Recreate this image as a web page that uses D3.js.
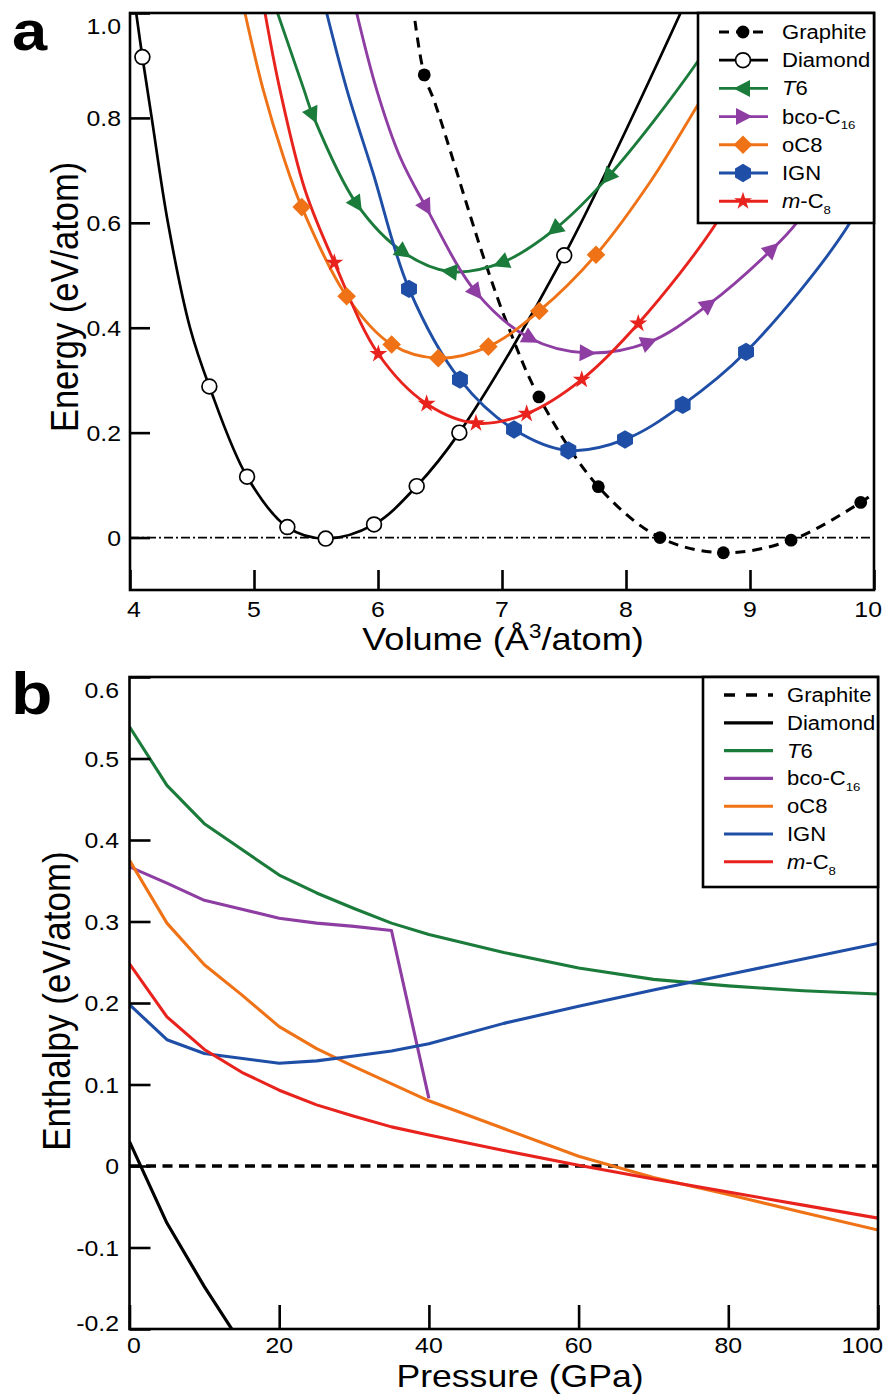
<!DOCTYPE html>
<html>
<head>
<meta charset="utf-8">
<title>Carbon phases: energy–volume and enthalpy–pressure</title>
<script src="https://cdn.jsdelivr.net/npm/d3@7/dist/d3.min.js"></script>
<style>
  html, body { margin: 0; padding: 0; background: #fff; }
  svg { display: block; }
</style>
</head>
<body>
<svg id="fig" width="885" height="1399"></svg>
<script>
// ---------------- Panel a: energy vs. volume ----------------
const volumeTicks = [4, 5, 6, 7, 8, 9, 10];
const energyTicks = [0, 0.2, 0.4, 0.6, 0.8, 1.0];

// computed structures: [V (Å^3/atom), E (eV/atom)]
const graphiteEV = [[6.373,0.882],[7.298,0.268],[7.777,0.097],[8.274,0.000],[8.785,-0.029],[9.331,-0.005],[9.893,0.067]];
const diamondEV  = [[4.10,0.916],[4.64,0.288],[4.944,0.116],[5.269,0.020],[5.578,-0.002],[5.968,0.025],[6.312,0.098],[6.656,0.200],[7.502,0.538]];
const t6EV       = [[5.473,0.806],[5.828,0.636],[6.204,0.544],[6.581,0.507],[6.998,0.524],[7.427,0.588],[7.857,0.688]];
const bcoEV      = [[6.387,0.630],[6.790,0.468],[7.226,0.380],[7.683,0.352],[8.180,0.372],[8.664,0.444],[9.175,0.549]];
const oc8EV      = [[5.385,0.630],[5.747,0.460],[6.110,0.368],[6.486,0.342],[6.890,0.364],[7.301,0.432],[7.758,0.539]];
const ignEV      = [[6.250,0.474],[6.661,0.301],[7.097,0.206],[7.535,0.166],[7.992,0.187],[8.457,0.253],[8.968,0.354]];
const mc8EV      = [[5.648,0.524],[6.003,0.350],[6.392,0.255],[6.790,0.218],[7.199,0.236],[7.643,0.301],[8.099,0.408]];

// extra points along each fitted equation-of-state curve (outside / between the computed points)
const graphiteFit = [[6.298,0.985],[6.46,0.828],[6.849,0.536],[7.051,0.402],[10.0,0.085]];
const diamondFit  = [[4.05,1.0],[4.175,0.80],[4.306,0.60],[4.484,0.40],[8.44,1.0]];
const t6Fit       = [[5.19,1.0],[5.404,0.853],[8.577,0.907],[8.9,1.03]];
const bcoFit      = [[5.828,1.0],[5.99,0.853],[6.177,0.726],[9.376,0.60],[9.7,0.72]];
const oc8Fit      = [[4.927,1.0],[5.075,0.853],[5.237,0.726],[8.207,0.682],[8.58,0.825],[8.9,0.95]];
const ignFit      = [[5.586,1.0],[5.75,0.853],[5.96,0.695],[9.806,0.60],[10.1,0.75]];
const mc8Fit      = [[5.089,1.0],[5.21,0.853],[5.411,0.663],[8.73,0.60],[9.0,0.72]];

// ---------------- Panel b: enthalpy vs. pressure ----------------
const pressureTicks = [0, 20, 40, 60, 80, 100];
const enthalpyTicks = [-0.2, -0.1, 0, 0.1, 0.2, 0.3, 0.4, 0.5, 0.6];

const graphiteP = [0, 100];
const graphiteH = [0, 0];
const diamondP  = [0, 5, 10, 15];
const diamondH  = [0.030, -0.070, -0.148, -0.219];
const t6P  = [0, 5, 10, 20, 25, 30, 35, 40, 50, 60, 70, 80, 90, 100];
const t6H  = [0.539, 0.467, 0.420, 0.357, 0.335, 0.316, 0.298, 0.284, 0.262, 0.243, 0.229, 0.221, 0.215, 0.211];
const bcoP = [0, 5, 10, 20, 25, 30, 35, 40];
const bcoH = [0.367, 0.347, 0.326, 0.304, 0.298, 0.294, 0.289, 0.083];
const oc8P = [0, 5, 10, 15, 20, 25, 30, 40, 50, 60, 70, 80, 90, 100];
const oc8H = [0.375, 0.298, 0.247, 0.210, 0.171, 0.144, 0.122, 0.080, 0.046, 0.012, -0.014, -0.035, -0.057, -0.0785];
const ignP = [0, 5, 10, 20, 25, 30, 35, 40, 50, 60, 70, 80, 90, 100];
const ignH = [0.198, 0.155, 0.138, 0.126, 0.129, 0.135, 0.141, 0.150, 0.175, 0.196, 0.216, 0.235, 0.254, 0.273];
const mc8P = [0, 5, 10, 15, 20, 25, 30, 35, 40, 50, 60, 70, 80, 90, 100];
const mc8H = [0.248, 0.183, 0.143, 0.115, 0.093, 0.075, 0.061, 0.048, 0.038, 0.019, 0.001, -0.016, -0.032, -0.048, -0.064];

// ---------------- styling ----------------
const FONT = '"Liberation Sans", Arial, Helvetica, sans-serif';
const SX = 1.13;              // horizontal text stretch
const GREEN = '#1b7b3b', PURPLE = '#8e3ea3', ORANGE = '#ef7316', BLUE = '#1f4ea6', RED = '#e8231e';
const FRAME_W = 2.6;

const svg = d3.select('#fig');
const defs = svg.append('defs');

function clamp(v, lo, hi) { return Math.max(lo, Math.min(hi, v)); }

// text with optional italic / subscript / superscript parts, horizontally stretched
function richText(parent, x, y, parts, o) {
  const size = o.size;
  const g = parent.append('g')
    .attr('transform', `translate(${x},${y}) scale(${SX},1)` + (o.rotate ? ` rotate(${o.rotate})` : ''));
  const t = g.append('text')
    .attr('font-family', FONT)
    .attr('font-size', size)
    .attr('font-weight', o.weight || 'normal')
    .attr('text-anchor', o.anchor || 'start')
    .attr('fill', '#000');
  if (typeof parts === 'string') parts = [{ t: parts }];
  let off = 0;
  parts.forEach(p => {
    let target = 0, fs = size;
    if (p.sub) { target = 0.3 * size; fs = 0.6 * size; }
    if (p.sup) { target = -0.38 * size; fs = 0.62 * size; }
    const s = t.append('tspan').text(p.t).attr('font-size', fs).attr('dy', target - off);
    if (p.i) s.attr('font-style', 'italic');
    off = target;
  });
  return { g, t };
}

// marker outlines (centred at 0,0); the triangle points along +x
function hexPath(r) {
  const pts = d3.range(6).map(k => {
    const a = (-90 + 60 * k) * Math.PI / 180;
    return [r * Math.cos(a), r * Math.sin(a)];
  });
  return 'M' + pts.map(p => p.join(',')).join('L') + 'Z';
}
const markerShapes = {
  dot: d3.symbol(d3.symbolCircle, Math.PI * 6.4 * 6.4)(),
  circle: d3.symbol(d3.symbolCircle, Math.PI * 7.4 * 7.4)(),
  triangle: 'M9.5,0L-7,-8.5L-7,8.5Z',
  diamond: 'M0,-9.3L9.3,0L0,9.3L-9.3,0Z',
  hexagon: hexPath(9.2),
  star: d3.symbol(d3.symbolStar, 100)()
};

function drawMarker(parent, x, y, s, angle) {
  const p = parent.append('path')
    .attr('d', markerShapes[s.shape])
    .attr('transform', `translate(${x},${y}) rotate(${angle || 0})`)
    .attr('fill', s.fill || s.color);
  if (s.shape === 'circle') p.attr('stroke', '#000').attr('stroke-width', 1.7);
}

// =====================================================================
// Panel a
// =====================================================================
const A = { left: 130, right: 874, top: 13, bottom: 590 };
const xA = d3.scaleLinear().domain([4, 10]).range([A.left, A.right]);
const yA = d3.scaleLinear().domain([-0.1, 1.0]).range([A.bottom, A.top]);

defs.append('clipPath').attr('id', 'clipA').append('rect')
  .attr('x', A.left).attr('y', A.top).attr('width', A.right - A.left).attr('height', A.bottom - A.top);

const evSeries = [
  { label: 'Graphite', marks: graphiteEV, fit: graphiteFit, color: '#000', shape: 'dot', dash: '10,7', width: 3 },
  { label: 'Diamond',  marks: diamondEV,  fit: diamondFit,  color: '#000', shape: 'circle', fill: '#fff', width: 2.7 },
  { label: 'T6',       marks: t6EV,       fit: t6Fit,       color: GREEN,  shape: 'triangle', orient: 'toMin', legendAngle: 180, width: 2.9 },
  { label: 'bco-C16',  marks: bcoEV,      fit: bcoFit,      color: PURPLE, shape: 'triangle', orient: 'tangent', legendAngle: 0, width: 2.9 },
  { label: 'oC8',      marks: oc8EV,      fit: oc8Fit,      color: ORANGE, shape: 'diamond', width: 2.9 },
  { label: 'IGN',      marks: ignEV,      fit: ignFit,      color: BLUE,   shape: 'hexagon', width: 2.9 },
  { label: 'm-C8',     marks: mc8EV,      fit: mc8Fit,      color: RED,    shape: 'star', width: 2.9 }
];

const gA = svg.append('g');
const plotA = gA.append('g').attr('clip-path', 'url(#clipA)');

// reference level E = 0
plotA.append('line')
  .attr('x1', A.left).attr('x2', A.right)
  .attr('y1', yA(0)).attr('y2', yA(0))
  .attr('stroke', '#000').attr('stroke-width', 1.7)
  .attr('stroke-dasharray', '9,3,2,3');

const fitLine = d3.line().x(d => xA(d[0])).y(d => yA(d[1])).curve(d3.curveCatmullRom.alpha(0.5));

evSeries.forEach(s => {
  s.curve = s.marks.concat(s.fit).sort((a, b) => a[0] - b[0]);
  plotA.append('path')
    .attr('d', fitLine(s.curve))
    .attr('fill', 'none')
    .attr('stroke', s.color)
    .attr('stroke-width', s.width)
    .attr('stroke-dasharray', s.dash || null);
});

evSeries.forEach(s => {
  const eMin = d3.least(s.marks, d => d[1]);
  s.marks.forEach(m => {
    let angle = 0;
    if (s.orient) {
      const j = s.curve.indexOf(m);
      const prev = s.curve[Math.max(0, j - 1)], next = s.curve[Math.min(s.curve.length - 1, j + 1)];
      angle = Math.atan2(yA(next[1]) - yA(prev[1]), xA(next[0]) - xA(prev[0])) * 180 / Math.PI;
      if (s.orient === 'toMin' && m[0] >= eMin[0]) angle += 180;
    }
    drawMarker(plotA, xA(m[0]), yA(m[1]), s, angle);
  });
});

// ticks (inward) via d3 axes
gA.append('g').attr('transform', `translate(${A.left},0)`)
  .call(d3.axisLeft(yA).tickValues(energyTicks).tickSize(-20).tickSizeOuter(0).tickFormat(''))
  .call(g => g.select('.domain').remove())
  .call(g => g.selectAll('.tick line').attr('stroke', '#000').attr('stroke-width', FRAME_W));
gA.append('g').attr('transform', `translate(0,${A.bottom})`)
  .call(d3.axisBottom(xA).tickValues(volumeTicks).tickSize(-20).tickSizeOuter(0).tickFormat(''))
  .call(g => g.select('.domain').remove())
  .call(g => g.selectAll('.tick line').attr('stroke', '#000').attr('stroke-width', FRAME_W));

gA.append('rect')
  .attr('x', A.left).attr('y', A.top).attr('width', A.right - A.left).attr('height', A.bottom - A.top)
  .attr('fill', 'none').attr('stroke', '#000').attr('stroke-width', FRAME_W);

// tick labels
const TICK_FS = 22;
function yTickLabels(parent, scale, ticks, box, xRight, fmt) {
  ticks.forEach(v => {
    const cy = clamp(scale(v), box.top + 13, box.bottom - 6);
    richText(parent, xRight, cy + 8, fmt(v), { size: TICK_FS, anchor: 'end' });
  });
}
function xTickLabels(parent, scale, ticks, baseline, minLeft, maxRight) {
  ticks.forEach(v => {
    const r = richText(parent, scale(v), baseline, String(v), { size: TICK_FS, anchor: 'middle' });
    const w = r.t.node().getComputedTextLength() * SX;
    const cx = clamp(scale(v), minLeft + w / 2, maxRight - w / 2);
    r.g.attr('transform', `translate(${cx},${baseline}) scale(${SX},1)`);
  });
}
// plain hyphen for negatives, bare "0" at the origin
const fmtE = v => v === 0 ? '0' : d3.format('.1f')(v).replace('\u2212', '-');
yTickLabels(gA, yA, energyTicks, A, 121, fmtE);
xTickLabels(gA, xA, volumeTicks, 617, 127, 882);

// axis titles
richText(gA, 503, 650, [{ t: 'Volume (Å' }, { t: '3', sup: 1 }, { t: '/atom)' }], { size: 32, anchor: 'middle' });
richText(gA, 78, 297, 'Energy (eV/atom)', { size: 34.5, anchor: 'middle', rotate: -90 });

// panel letter
richText(svg, 12, 50, 'a', { size: 56, weight: 'bold' });

// legend
const legendLabels = [
  [{ t: 'Graphite' }],
  [{ t: 'Diamond' }],
  [{ t: 'T', i: 1 }, { t: '6' }],
  [{ t: 'bco-C' }, { t: '16', sub: 1 }],
  [{ t: 'oC8' }],
  [{ t: 'IGN' }],
  [{ t: 'm', i: 1 }, { t: '-C' }, { t: '8', sub: 1 }]
];

const legA = gA.append('g');
legA.append('rect')
  .attr('x', 698).attr('y', A.top).attr('width', A.right - 698).attr('height', 223 - A.top)
  .attr('fill', '#fff').attr('stroke', '#000').attr('stroke-width', FRAME_W);
evSeries.forEach((s, i) => {
  const cy = 32 + i * 28.2;
  legA.append('line').attr('x1', 719).attr('x2', 768).attr('y1', cy).attr('y2', cy)
    .attr('stroke', s.color).attr('stroke-width', s.width).attr('stroke-dasharray', s.dash || null);
  drawMarker(legA, 743, cy, s, s.legendAngle || 0);
  richText(legA, 782, cy + 7, legendLabels[i], { size: 19.5 });
});

// =====================================================================
// Panel b
// =====================================================================
const B = { left: 129.5, right: 878, top: 677, bottom: 1329 };
const xB = d3.scaleLinear().domain([0, 100]).range([B.left, B.right]);
const yB = d3.scaleLinear().domain([-0.2, 0.6]).range([B.bottom, B.top]);

defs.append('clipPath').attr('id', 'clipB').append('rect')
  .attr('x', B.left).attr('y', B.top).attr('width', B.right - B.left).attr('height', B.bottom - B.top);

const hpSeries = [
  { p: graphiteP, h: graphiteH, color: '#000', dash: '10,6.5', width: 3.3 },
  { p: diamondP,  h: diamondH,  color: '#000', width: 3.2 },
  { p: t6P,       h: t6H,       color: GREEN,  width: 3.1 },
  { p: bcoP,      h: bcoH,      color: PURPLE, width: 3.1 },
  { p: oc8P,      h: oc8H,      color: ORANGE, width: 3.1 },
  { p: ignP,      h: ignH,      color: BLUE,   width: 3.1 },
  { p: mc8P,      h: mc8H,      color: RED,    width: 3.1 }
];

const gB = svg.append('g');
const plotB = gB.append('g').attr('clip-path', 'url(#clipB)');
const hLine = d3.line().x(d => xB(d[0])).y(d => yB(d[1]));

hpSeries.forEach(s => {
  plotB.append('path')
    .attr('d', hLine(d3.zip(s.p, s.h)))
    .attr('fill', 'none')
    .attr('stroke', s.color)
    .attr('stroke-width', s.width)
    .attr('stroke-linejoin', 'round')
    .attr('stroke-dasharray', s.dash || null);
});

gB.append('g').attr('transform', `translate(${B.left},0)`)
  .call(d3.axisLeft(yB).tickValues(enthalpyTicks).tickSize(-21).tickSizeOuter(0).tickFormat(''))
  .call(g => g.select('.domain').remove())
  .call(g => g.selectAll('.tick line').attr('stroke', '#000').attr('stroke-width', FRAME_W));
gB.append('g').attr('transform', `translate(0,${B.bottom})`)
  .call(d3.axisBottom(xB).tickValues(pressureTicks).tickSize(-24).tickSizeOuter(0).tickFormat(''))
  .call(g => g.select('.domain').remove())
  .call(g => g.selectAll('.tick line').attr('stroke', '#000').attr('stroke-width', FRAME_W));

gB.append('rect')
  .attr('x', B.left).attr('y', B.top).attr('width', B.right - B.left).attr('height', B.bottom - B.top)
  .attr('fill', 'none').attr('stroke', '#000').attr('stroke-width', FRAME_W);

yTickLabels(gB, yB, enthalpyTicks, B, 119, fmtE);
xTickLabels(gB, xB, pressureTicks, 1353, 127, 883);

richText(gB, 520, 1387, 'Pressure (GPa)', { size: 31.5, anchor: 'middle' });
richText(gB, 70, 1001, 'Enthalpy (eV/atom)', { size: 35, anchor: 'middle', rotate: -90 });

richText(svg, 11, 714, 'b', { size: 60, weight: 'bold' });

const legB = gB.append('g');
legB.append('rect')
  .attr('x', 703).attr('y', B.top).attr('width', B.right - 703).attr('height', 887 - B.top)
  .attr('fill', '#fff').attr('stroke', '#000').attr('stroke-width', FRAME_W);
hpSeries.forEach((s, i) => {
  const cy = 695 + i * 27.8;
  legB.append('line').attr('x1', 724).attr('x2', 773).attr('y1', cy).attr('y2', cy)
    .attr('stroke', s.color).attr('stroke-width', s.width).attr('stroke-dasharray', s.dash ? '11,11' : null);
  richText(legB, 787, cy + 7, legendLabels[i], { size: 19.5 });
});
</script>
</body>
</html>
